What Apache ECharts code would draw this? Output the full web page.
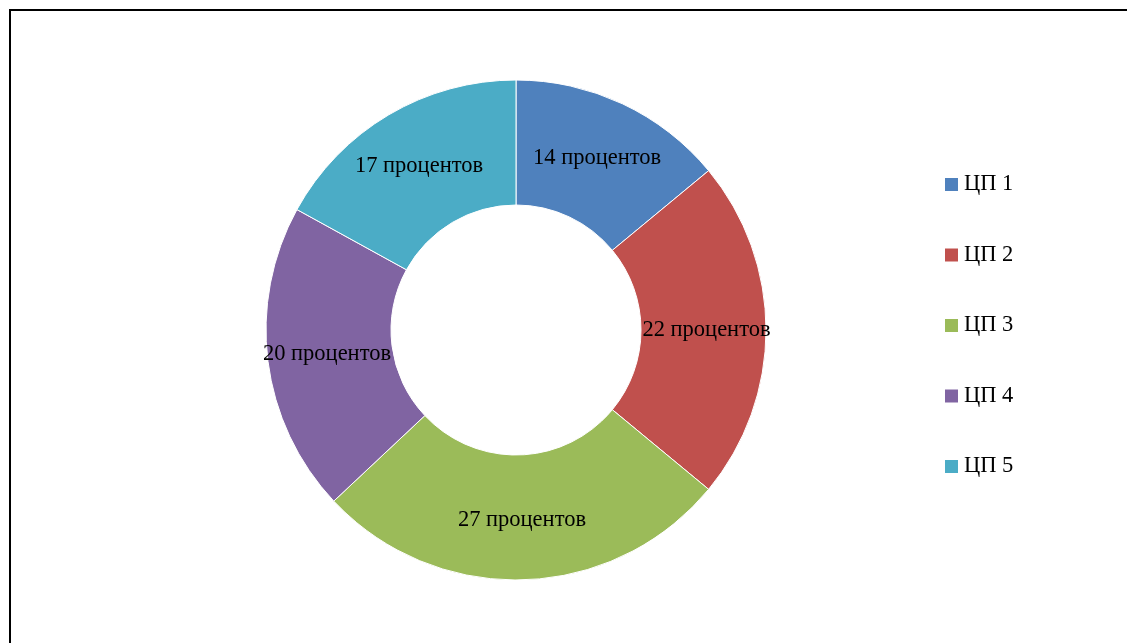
<!DOCTYPE html>
<html>
<head>
<meta charset="utf-8">
<script src="https://cdn.jsdelivr.net/npm/echarts@6/dist/echarts.min.js"></script>
<style>html,body{margin:0;padding:0;background:#fff}#c{width:1127px;height:643px}</style>
</head>
<body>
<div id="c"></div>
<script>
const categories = ['ЦП 1', 'ЦП 2', 'ЦП 3', 'ЦП 4', 'ЦП 5'];
const values = [14, 22, 27, 20, 17];
const colors = ['#4F81BD', '#C0504D', '#9BBB59', '#8064A2', '#4BACC6'];
const labelSuffix = ' процентов';

const chart = echarts.init(document.getElementById('c'));
const font = "'Liberation Serif', 'Times New Roman', serif";
chart.setOption({
  animation: false,
  color: colors,
  graphic: [{
    type: 'rect',
    shape: { x: 10, y: 10, width: 1140, height: 660 },
    style: { fill: 'none', stroke: '#000', lineWidth: 2 },
    silent: true
  }],
  legend: {
    orient: 'vertical',
    left: 938,
    top: 168,
    itemWidth: 15,
    itemHeight: 15,
    itemGap: 47.5,
    icon: 'rect',
    textStyle: { fontFamily: font, fontSize: 22.5, color: '#000', lineHeight: 22 },
    data: categories
  },
  series: [{
    type: 'pie',
    center: [516, 330],
    radius: [125, 250],
    startAngle: 90,
    clockwise: true,
    itemStyle: { borderColor: '#fff', borderWidth: 1 },
    label: {
      position: 'inside',
      formatter: function (p) { return p.value + labelSuffix; },
      fontFamily: font,
      fontSize: 22.5,
      color: '#000'
    },
    labelLine: { show: false },
    data: categories.map((n, i) => ({ name: n, value: values[i] }))
  }]
});
</script>
</body>
</html>
